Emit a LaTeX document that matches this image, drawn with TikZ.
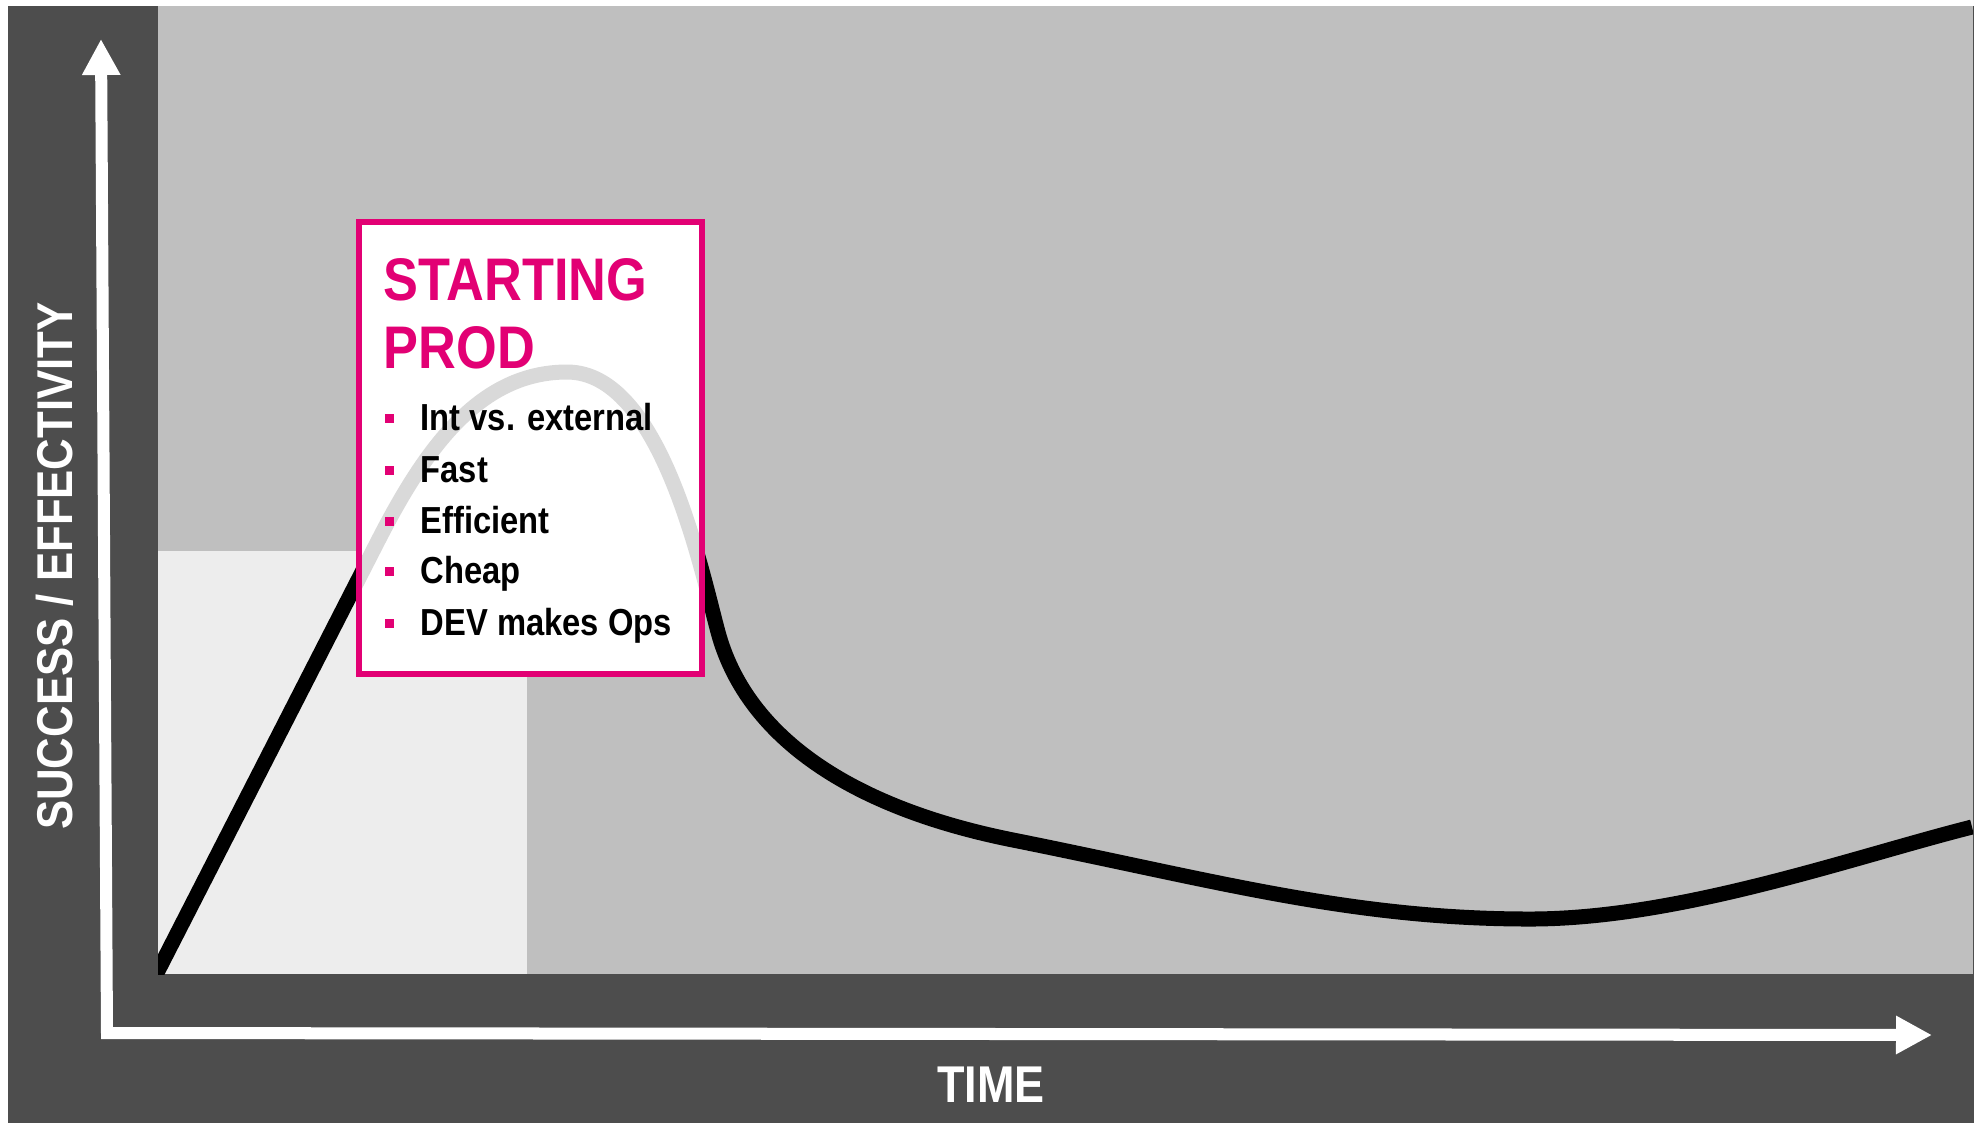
\documentclass[tikz,border=0pt]{standalone}
\usepackage{fontspec}
\setmainfont{Liberation Sans}[FakeStretch=0.87]
\usetikzlibrary{arrows.meta}
\definecolor{darkbg}{HTML}{4D4D4D}
\definecolor{plotbg}{HTML}{BFBFBF}
\definecolor{lightbg}{HTML}{EDEDED}
\definecolor{ghost}{HTML}{D9D9D9}
\definecolor{tmag}{HTML}{E20074}
\begin{document}
\begin{tikzpicture}[x=0.01cm,y=-0.01cm,
  curveline/.style={line width=0.15cm, line cap=butt, line join=round},
  axisline/.style={draw=white, line width=0.12cm, line join=miter,
    {Triangle[length=0.36cm,width=0.36cm]}-{Triangle[length=0.36cm,width=0.36cm]}},
  axlabel/.style={text=white, font=\fontsize{14.7}{17}\selectfont\bfseries, inner sep=0pt},
  headtext/.style={text=tmag, font=\fontsize{17.1}{20}\selectfont\bfseries, anchor=base west, inner sep=0pt},
  itemtext/.style={text=black, font=\fontsize{10.7}{13}\selectfont\bfseries, anchor=base west, inner sep=0pt},
  bulletsq/.style={fill=tmag, rectangle, minimum size=0.09cm, inner sep=0pt, draw=none}
]
\useasboundingbox (0,0) rectangle (1985,1123);
\fill[white] (0,0) rectangle (1985,1123);
% panels
\fill[darkbg] (8,6) rectangle (1974,1123);
\fill[plotbg] (158,6) rectangle (1973,974);
\fill[lightbg] (158,551) rectangle (527,974);
% curve coordinates
\coordinate (p0) at (140,1006);
\coordinate (p1) at (380,537);
\coordinate (peak) at (567,372);
\coordinate (p3) at (718,632);
\coordinate (p4) at (1013,840);
\coordinate (pmin) at (1530,919);
\coordinate (pend) at (1972,827);
% black curve
\begin{scope}
\clip (158,6) rectangle (1973,974);
\draw[curveline, black] (p0) -- (p1) .. controls (426,448) and (480,372) .. (peak)
  .. controls (660,372) and (700,565) .. (p3)
  .. controls (745,732) and (843,806) .. (p4)
  .. controls (1213,880) and (1350,919) .. (pmin)
  .. controls (1680,919) and (1853,857) .. (pend);
\end{scope}
% box
\node[fill=white, draw=none, minimum width=3.41cm, minimum height=4.50cm, inner sep=0pt, anchor=north west] (box) at (359,222) {};
\begin{scope}
\clip (box.north west) rectangle (box.south east);
\draw[curveline, ghost] (p0) -- (p1) .. controls (426,448) and (480,372) .. (peak)
  .. controls (660,372) and (700,565) .. (p3);
\end{scope}
\draw[tmag, line width=0.06cm] (box.north west) rectangle (box.south east);
% texts
\node[headtext] (h1) at (383,300) {STARTING};
\node[headtext] (h2) at (383,368) {PROD};
\node[bulletsq] (b1) at (389.5,418) {};
\node[bulletsq] (b2) at (389.5,470) {};
\node[bulletsq] (b3) at (389.5,521) {};
\node[bulletsq] (b4) at (389.5,571) {};
\node[bulletsq] (b5) at (389.5,623) {};
\node[itemtext] (i1) at (420,430) {Int vs. external};
\node[itemtext] (i2) at (420,482) {Fast};
\node[itemtext] (i3) at (420,533) {Efficient};
\node[itemtext] (i4) at (420,583) {Cheap};
\node[itemtext] (i5) at (420,635) {DEV makes Ops};
% axes
\coordinate (ytip) at (101,39);
\coordinate (corner) at (107,1033);
\coordinate (xtip) at (1932,1035);
\draw[axisline] (ytip) -- (corner) -- (xtip);
\node[axlabel, anchor=base] (xlab) at (991,1102) {TIME};
\node[axlabel, anchor=base, rotate=90, font=\fontsize{14.3}{17}\selectfont\bfseries] (ylab) at (72,566) {SUCCESS / EFFECTIVITY};
\end{tikzpicture}
\end{document}
